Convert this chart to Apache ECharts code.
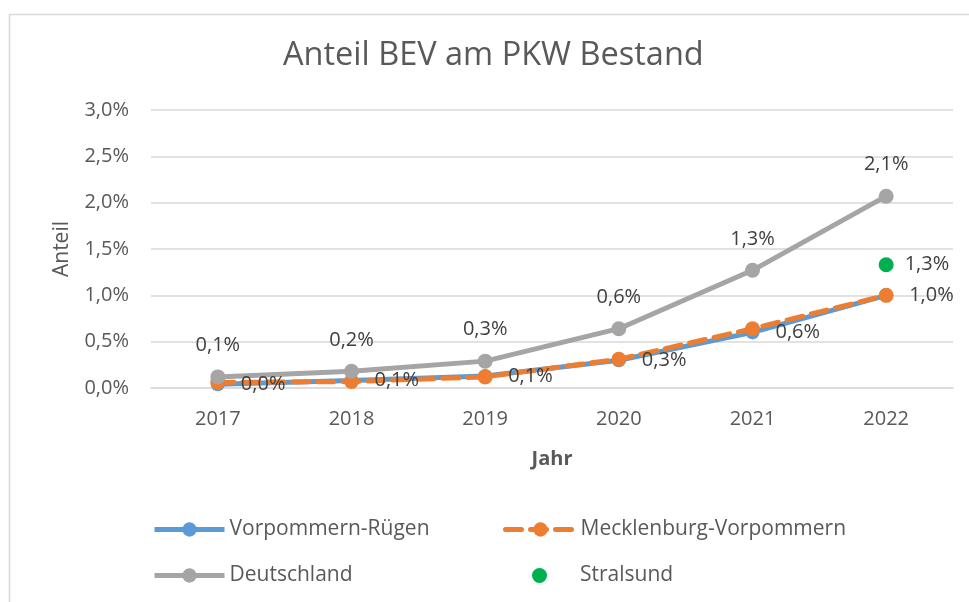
<!DOCTYPE html>
<html>
<head>
<meta charset="utf-8">
<script src="https://cdn.jsdelivr.net/npm/echarts@6/dist/echarts.min.js"></script>
<style>
  html, body { margin: 0; padding: 0; background: #fff; }
  #chart-container { width: 969px; height: 602px; }
</style>
</head>
<body>
<div id="chart-container"></div>
<script>
// values in percent
var years = ['2017', '2018', '2019', '2020', '2021', '2022'];
var vorpommernRuegen = [0.04, 0.08, 0.13, 0.30, 0.60, 1.00];
var mecklenburgVorpommern = [0.06, 0.07, 0.12, 0.31, 0.64, 1.00];
var deutschland = [0.12, 0.18, 0.29, 0.64, 1.27, 2.07];
var stralsund = [null, null, null, null, null, 1.33];
var yTicks = { min: 0, max: 3, interval: 0.5 };

var dom = document.getElementById('chart-container');
var myChart = echarts.init(dom, null, { renderer: 'canvas' });

var font = 'Open Sans';
var textColor = '#595959';
var labelColor = '#404040';

function pct(v) {
  return v.toFixed(1).replace('.', ',') + '%';
}

var legendBase = {
  padding: 0,
  itemWidth: 70,
  itemHeight: 18,
  itemGap: 0,
  lineStyle: { width: 5 },
  textStyle: { fontFamily: font, fontSize: 21, color: textColor }
};

var option = {
  animation: false,
  title: {
    text: 'Anteil BEV am PKW Bestand',
    left: 283,
    top: 39,
    padding: 0,
    textStyle: { fontFamily: font, fontSize: 32.5, fontWeight: 'normal', color: textColor }
  },
  graphic: [
    {
      type: 'rect',
      left: 7,
      top: 12,
      shape: { width: 1000, height: 700 },
      style: { fill: 'none', stroke: '#d9d9d9', lineWidth: 1.5 },
      silent: true
    }
  ],
  legend: [
    Object.assign({ data: ['Vorpommern-Rügen'], left: 152, top: 519 }, legendBase),
    Object.assign({ data: ['Mecklenburg-Vorpommern'], left: 503, top: 519 }, legendBase),
    Object.assign({ data: ['Deutschland'], left: 152, top: 565 }, legendBase),
    Object.assign({}, legendBase, {
      data: [{ name: 'Stralsund', icon: 'circle' }],
      left: 532, top: 565, itemWidth: 15, itemHeight: 15,
      textStyle: { fontFamily: font, fontSize: 21, color: textColor, padding: [0, 0, 0, 28] }
    })
  ],
  grid: { left: 151, right: 16, top: 110, bottom: 214 },
  xAxis: {
    type: 'category',
    data: years,
    name: 'Jahr',
    nameLocation: 'middle',
    nameGap: 61,
    nameTextStyle: { fontFamily: font, fontSize: 20, fontWeight: 'bold', color: textColor },
    axisLine: { lineStyle: { color: '#d9d9d9', width: 1.5 } },
    axisTick: { show: false },
    axisLabel: { fontFamily: font, fontSize: 20, color: textColor, margin: 21 }
  },
  yAxis: {
    type: 'value',
    min: yTicks.min,
    max: yTicks.max,
    interval: yTicks.interval,
    name: 'Anteil',
    nameLocation: 'middle',
    nameRotate: 90,
    nameGap: 78,
    nameTextStyle: { fontFamily: font, fontSize: 21, color: textColor },
    axisLine: { show: false },
    axisTick: { show: false },
    splitLine: { lineStyle: { color: '#d9d9d9', width: 1.5 } },
    axisLabel: {
      fontFamily: font, fontSize: 20, color: textColor, margin: 22,
      formatter: function (v) { return pct(v); }
    }
  },
  series: [
    {
      name: 'Vorpommern-Rügen',
      type: 'line',
      data: vorpommernRuegen,
      color: '#5b9bd5',
      symbol: 'circle',
      symbolSize: 14,
      lineStyle: { width: 5 },
      z: 2
    },
    {
      name: 'Mecklenburg-Vorpommern',
      type: 'line',
      data: mecklenburgVorpommern,
      color: '#ed7d31',
      symbol: 'circle',
      symbolSize: 15,
      lineStyle: { width: 5, type: [16, 9], cap: 'round' },
      z: 3
    },
    {
      name: 'Deutschland',
      type: 'line',
      data: deutschland,
      color: '#a5a5a5',
      symbol: 'circle',
      symbolSize: 15,
      lineStyle: { width: 5 },
      label: {
        show: true, position: 'top', distance: 14,
        fontFamily: font, fontSize: 20, color: labelColor,
        formatter: function (p) { return pct(p.value); }
      },
      z: 4
    },
    {
      name: 'Stralsund',
      type: 'scatter',
      data: stralsund,
      color: '#00b050',
      symbol: 'circle',
      symbolSize: 15,
      itemStyle: { opacity: 1 },
      label: {
        show: true, position: 'right', distance: 11,
        fontFamily: font, fontSize: 20, color: labelColor, opacity: 1,
        formatter: function (p) { return pct(p.value); }
      },
      z: 5
    },
    {
      // data labels of Vorpommern-Rügen, drawn above the dashed line
      name: 'Vorpommern-Rügen Beschriftung',
      type: 'line',
      data: vorpommernRuegen,
      symbol: 'circle',
      symbolSize: 14,
      itemStyle: { color: 'transparent' },
      lineStyle: { width: 0, opacity: 0 },
      silent: true,
      label: {
        show: true, position: 'right', distance: 16,
        fontFamily: font, fontSize: 20, color: labelColor,
        formatter: function (p) { return pct(p.value); }
      },
      z: 6
    }
  ]
};

myChart.setOption(option);
window.addEventListener('resize', myChart.resize);
</script>
</body>
</html>
